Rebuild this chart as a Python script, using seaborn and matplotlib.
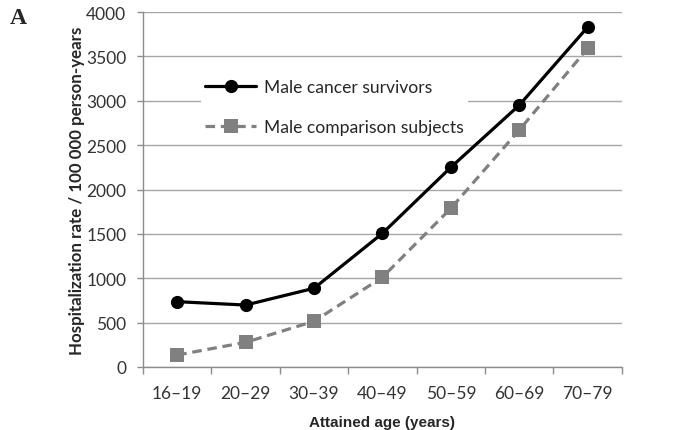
import matplotlib
matplotlib.use("Agg")
import matplotlib.pyplot as plt
import seaborn as sns
import pandas as pd

age_groups = ["16\u201319", "20\u201329", "30\u201339", "40\u201349", "50\u201359", "60\u201369", "70\u201379"]
survivors = [736, 698, 887, 1506, 2250, 2950, 3830]
comparison = [135, 278, 515, 1011, 1788, 2670, 3590]
series_names = ["Male cancer survivors", "Male comparison subjects"]

df = pd.DataFrame({
    "age": age_groups * 2,
    "rate": survivors + comparison,
    "group": [series_names[0]] * len(age_groups) + [series_names[1]] * len(age_groups),
})

sns.set_theme(style="white")
plt.rcParams["font.family"] = ["Lato", "DejaVu Sans"]

fig = plt.figure(figsize=(6.73, 4.31), dpi=100)
ax = fig.add_axes([0.2125, 0.1462, 0.7115, 0.8236])

sns.lineplot(
    data=df, x="age", y="rate", hue="group", style="group",
    palette={series_names[0]: "black", series_names[1]: "#808080"},
    markers={series_names[0]: "o", series_names[1]: "s"},
    dashes={series_names[0]: "", series_names[1]: (3, 1.8)},
    markersize=9.5, linewidth=2.3, markeredgewidth=0, ax=ax, sort=False,
)

ax.set_ylim(0, 4000)
ax.set_xlim(-0.5, 6.5)
ax.set_yticks(range(0, 4001, 500))
ax.yaxis.grid(True, color="#a6a6a6", linewidth=1.0)
ax.set_axisbelow(True)
for s in ["top", "right"]:
    ax.spines[s].set_visible(False)
ax.spines["left"].set_color("#8c8c8c")
ax.spines["bottom"].set_color("#8c8c8c")
ax.spines["left"].set_linewidth(1.0)
ax.spines["bottom"].set_linewidth(1.0)

# category boundary ticks on the x axis
ax.set_xticks([i - 0.5 for i in range(len(age_groups) + 1)], minor=True)
ax.tick_params(axis="x", which="minor", length=5, color="#8c8c8c", width=1.0, bottom=True)
ax.tick_params(axis="x", which="major", length=0, labelsize=12.5, labelcolor="#333333", pad=13)
ax.tick_params(axis="y", length=4, color="#8c8c8c", width=1.0, left=True, labelsize=12.5,
               labelcolor="#333333", pad=8)

ax.set_xlabel("Attained age (years)", fontfamily="Liberation Sans", fontweight="bold",
              fontsize=11, labelpad=10)
ax.set_ylabel("Hospitalization rate / 100 000 person-years", fontfamily="Lato",
              fontweight="bold", fontsize=12.2, labelpad=1)

leg = ax.legend(loc="upper left", bbox_to_anchor=(0.1025, 0.848), frameon=True,
                facecolor="white", edgecolor="none", framealpha=1, fontsize=12.6,
                handlelength=2.9, borderpad=0.25, labelspacing=1.35, handletextpad=0.45)
leg.get_frame().set_boxstyle("square", pad=0)

fig.text(0.015, 0.945, "A", family="Liberation Serif", fontweight="bold", fontsize=17)

fig.savefig("out.png", dpi=100)
